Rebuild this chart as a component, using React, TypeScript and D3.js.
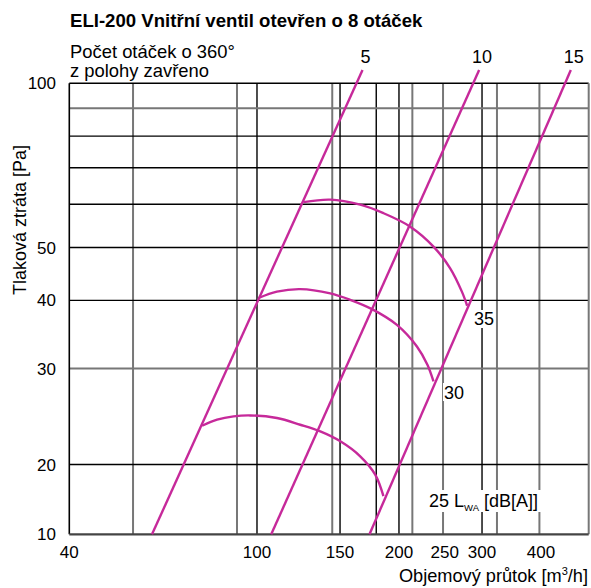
import React from "react";
import * as d3 from "d3";

const W = 591;
const H = 588;

// axes
const xDomain = [40, 505];
const yDomain = [14.9, 100];
const xTicks = [40, 100, 150, 200, 250, 300, 400];
const yTicks = [100, 50, 40, 30, 20];
const yBottomLabel = "10";
// grid lines
const xGridBlack = [100, 150, 179, 200, 300];
const xGridGray = [54.6, 90.7, 144.4, 213.5, 248, 322.7, 397];
const yGridBlack = [80, 70, 60, 50, 40, 20];
const yGridGray = [90, 30];

// valve opening lines (number of turns)
const valveNames = ["5", "10", "15"];
const valveLines: [number, number][][] = [
  [[59.9, 14.9], [167.4, 105.8]],
  [[107.2, 14.9], [295.8, 105.8]],
  [[173.2, 14.9], [462.8, 105.8]],
];

// noise curves LWA dB(A)
const noise35: [number, number][] = [
  [125.5, 60.55], [143.0, 61.2], [165.5, 59.9], [185.4, 57.8], [211.3, 54.6],
  [236.7, 50.2], [256.8, 45.8], [271.9, 41.5], [279.0, 39.1],
];
const noise30: [number, number][] = [
  [100.8, 40.4], [110.2, 41.5], [123.5, 41.95], [143.0, 41.2], [157.6, 40.1],
  [175.3, 38.55], [198.0, 36.07], [218.3, 32.93], [229.8, 30.48], [236.7, 28.41],
];
const noise25: [number, number][] = [
  [76.5, 23.56], [82.3, 24.17], [89.2, 24.51], [96.8, 24.61], [110.2, 24.34],
  [123.5, 23.66], [136.2, 23.0], [150.2, 22.06], [165.5, 20.71], [178.1, 19.17],
  [185.4, 17.5],
];

const MAG = "#c6299a";
const FONT = "'Liberation Sans', Arial, sans-serif";

export default function App() {
  const x = d3.scaleLog().domain(xDomain).range([69.3, 588.7]);
  const y = d3.scaleLog().domain(yDomain).range([534.3, 83.3]);
  const line = d3
    .line<[number, number]>()
    .x((d) => x(d[0]))
    .y((d) => y(d[1]));
  const curve = d3
    .line<[number, number]>()
    .x((d) => x(d[0]))
    .y((d) => y(d[1]))
    .curve(d3.curveCatmullRom);

  const [x0, x1] = x.range();
  const [yb, yt] = y.range();
  const fs = 17;

  return (
    <svg
      width={W}
      height={H}
      style={{ position: "absolute", left: 0, top: 0, background: "#fff" }}
      fontFamily={FONT}
    >
      <rect width={W} height={H} fill="#fff" />
      <text x={70} y={27} fontSize={18.6} fontWeight="bold" fill="#000">
        ELI-200 Vnitřní ventil otevřen o 8 otáček
      </text>
      <text x={70} y={58} fontSize={18.4} fill="#000">
        Počet otáček o 360°
      </text>
      <text x={70} y={77} fontSize={18.4} fill="#000">
        z polohy zavřeno
      </text>

      {/* grid */}
      {xGridGray.map((v) => (
        <line key={"xg" + v} x1={x(v)} x2={x(v)} y1={yt} y2={yb} stroke="#777" strokeWidth={2} />
      ))}
      {xGridBlack.map((v) => (
        <line key={"xb" + v} x1={x(v)} x2={x(v)} y1={yt} y2={yb} stroke="#000" strokeWidth={1.4} />
      ))}
      {yGridGray.map((v) => (
        <line key={"yg" + v} x1={x0} x2={x1} y1={y(v)} y2={y(v)} stroke="#777" strokeWidth={2} />
      ))}
      {yGridBlack.map((v) => (
        <line key={"yb" + v} x1={x0} x2={x1} y1={y(v)} y2={y(v)} stroke="#000" strokeWidth={1.4} />
      ))}
      {/* borders */}
      <line x1={x0} x2={x1} y1={yt} y2={yt} stroke="#000" strokeWidth={1.4} />
      <line x1={x0} x2={x0} y1={yt} y2={yb} stroke="#000" strokeWidth={1.6} />
      <line x1={x1} x2={x1} y1={yt} y2={yb} stroke="#777" strokeWidth={2} />
      <line x1={x0} x2={x1} y1={yb} y2={yb} stroke="#444" strokeWidth={2.2} />

      {/* tick labels */}
      {yTicks.map((v) => (
        <text key={"yt" + v} x={56} y={y(v)} dy="0.36em" textAnchor="end" fontSize={fs}>
          {v}
        </text>
      ))}
      <text x={56} y={y(yDomain[0])} dy="0.36em" textAnchor="end" fontSize={fs}>
        {yBottomLabel}
      </text>
      {xTicks.map((v) => (
        <text key={"xt" + v} x={x(v)} y={558} textAnchor="middle" fontSize={fs}>
          {v}
        </text>
      ))}
      <text x={588} y={582} textAnchor="end" fontSize={18.2}>
        Objemový průtok [m
        <tspan fontSize={11} dy={-7}>3</tspan>
        <tspan dy={7}>/h]</tspan>
      </text>
      <text
        transform={`translate(26,${220}) rotate(-90)`}
        textAnchor="middle"
        fontSize={18}
      >
        Tlaková ztráta [Pa]
      </text>

      {/* magenta lines */}
      {valveLines.map((pts, i) => (
        <path key={"v" + i} d={line(pts) || ""} fill="none" stroke={MAG} strokeWidth={2.4} />
      ))}
      {valveLines.map((pts, i) => (
        <text
          key={"vl" + i}
          x={x(pts[1][0]) + 3}
          y={63}
          textAnchor="middle"
          fontSize={18}
        >
          {valveNames[i]}
        </text>
      ))}
      {[noise35, noise30, noise25].map((pts, i) => (
        <path key={"n" + i} d={curve(pts) || ""} fill="none" stroke={MAG} strokeWidth={2.4} />
      ))}

      {/* noise labels */}
      <rect x={473} y={310} width={22} height={18} fill="#fff" />
      <text x={474} y={319} dy="0.36em" fontSize={18}>35</text>
      <rect x={443} y={383} width={22} height={18} fill="#fff" />
      <text x={444} y={393} dy="0.36em" fontSize={18}>30</text>
      <rect x={428} y={490} width={114} height={22} fill="#fff" />
      <text x={429} y={501} dy="0.36em" fontSize={18}>
        25 L<tspan fontSize={9.5} dy={4}>WA</tspan>
        <tspan dy={-4}> [dB[A]]</tspan>
      </text>
    </svg>
  );
}
